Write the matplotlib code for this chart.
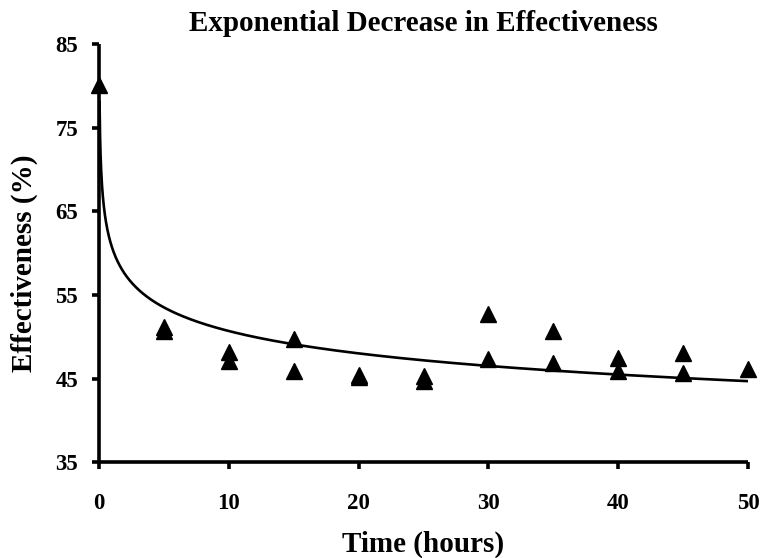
import numpy as np
import matplotlib
matplotlib.use("Agg")
import matplotlib.pyplot as plt

# Data
time_hours = [0, 5, 5, 10, 10, 15, 15, 20, 20, 25, 25, 30, 30, 35, 35, 40, 40, 45, 45, 50]
effectiveness = [80.2, 51.2, 50.7, 48.2, 47.1, 49.7, 45.9, 45.4, 45.2, 45.3, 44.7,
                 52.7, 47.3, 50.7, 46.8, 47.4, 45.9, 48.1, 45.7, 46.1]

# Power trendline parameters (y = a * x^b)
trend_a = 60.7
trend_b = -0.0783

x_ticks = [0, 10, 20, 30, 40, 50]
y_ticks = [35, 45, 55, 65, 75, 85]

plt.rcParams['font.family'] = ['Liberation Serif', 'DejaVu Serif']
plt.rcParams['font.weight'] = 'bold'

fig = plt.figure(figsize=(7.63, 5.58), dpi=100)
ax = fig.add_axes([0.1298, 0.172, 0.9803 - 0.1298, 0.9203 - 0.172])

tx = np.linspace(0.04, 50, 4000)
ty = trend_a * tx ** trend_b
ax.plot(tx, ty, color='black', lw=1.9, zorder=2)

ax.plot(time_hours, effectiveness, linestyle='none', marker='^', ms=12,
        color='black', clip_on=False, zorder=3)

ax.set_xlim(0, 50)
ax.set_ylim(35, 85)
ax.set_xticks(x_ticks)
ax.set_yticks(y_ticks)
for s in ['top', 'right']:
    ax.spines[s].set_visible(False)
for s in ['left', 'bottom']:
    ax.spines[s].set_linewidth(2.6)
    ax.spines[s].set_capstyle('butt')
ax.tick_params(axis='both', direction='out', length=5, width=2.6, labelsize=16.5)
for lab in ax.get_xticklabels() + ax.get_yticklabels():
    lab.set_fontweight('bold')
ax.tick_params(axis='x', pad=17)
ax.tick_params(axis='y', pad=10)

ax.set_title('Exponential Decrease in Effectiveness', fontsize=21, fontweight='bold', pad=10)
ax.set_xlabel('Time (hours)', fontsize=21, fontweight='bold', labelpad=12)
ax.set_ylabel('Effectiveness (%)', fontsize=21, fontweight='bold', labelpad=10)
ax.yaxis.set_label_coords(-0.094, 0.475)

fig.savefig('out.png', dpi=100)
